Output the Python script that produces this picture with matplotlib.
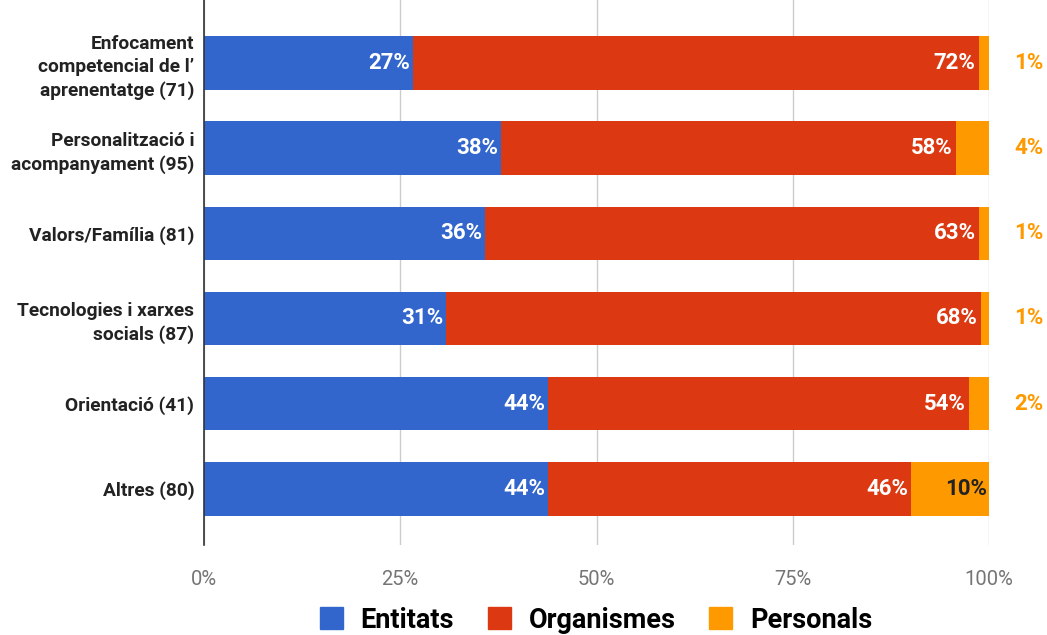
import matplotlib
matplotlib.use("Agg")
import matplotlib.pyplot as plt
from matplotlib.patches import Patch

categories = ["Enfocament\ncompetencial de l’\naprenentatge (71)",
              "Personalització i\nacompanyament (95)",
              "Valors/Família (81)",
              "Tecnologies i xarxes\nsocials (87)",
              "Orientació (41)",
              "Altres (80)"]
entitats = [26.6, 37.8, 35.8, 30.8, 43.8, 43.8]
organismes = [72.1, 58.0, 62.9, 68.2, 53.7, 46.3]
personals = [1.3, 4.2, 1.3, 1.0, 2.5, 10.0]
lab_ent = ["27%", "38%", "36%", "31%", "44%", "44%"]
lab_org = ["72%", "58%", "63%", "68%", "54%", "46%"]
lab_per = ["1%", "4%", "1%", "1%", "2%", "10%"]
series_names = ["Entitats", "Organismes", "Personals"]
colors = ["#3366CC", "#DC3912", "#FF9900"]

plt.rcParams['font.family'] = ['Roboto', 'DejaVu Sans']

fig = plt.figure(figsize=(10.47, 6.35), dpi=100)
ax = fig.add_axes([204/1047, 1 - 545/635, (989-204)/1047, 545/635])

y = list(range(len(categories)))
h = 0.63
ax.barh(y, entitats, height=h, color=colors[0], zorder=3)
left2 = entitats
ax.barh(y, organismes, left=left2, height=h, color=colors[1], zorder=3)
left3 = [a + b for a, b in zip(entitats, organismes)]
ax.barh(y, personals, left=left3, height=h, color=colors[2], zorder=3)

lf = 16
for i in y:
    ax.text(entitats[i] - 0.3, i, lab_ent[i], ha='right', va='center',
            color='white', fontsize=lf, fontweight='bold', zorder=4)
    ax.text(left3[i] - 0.4, i, lab_org[i], ha='right', va='center',
            color='white', fontsize=lf, fontweight='bold', zorder=4)
    if personals[i] >= 5:
        ax.text(left3[i] + personals[i] - 0.4, i, lab_per[i], ha='right', va='center',
                color='#222222', fontsize=lf, fontweight='bold', zorder=4)
    else:
        ax.text(107.0, i, lab_per[i], ha='right', va='center', clip_on=False,
                color=colors[2], fontsize=lf, fontweight='bold', zorder=4)

ax.set_xlim(0, 100)
ax.set_ylim(5.66, -0.74)
ax.set_xticks([0, 25, 50, 75, 100])
ax.set_xticklabels(["0%", "25%", "50%", "75%", "100%"], fontsize=14.5, color='#757575')
ax.set_yticks(y)
ax.set_yticklabels(categories, fontsize=13.8, fontweight='bold', color='#222222',
                   linespacing=1.35)
ax.tick_params(axis='both', length=0)
ax.tick_params(axis='x', pad=18)
ax.tick_params(axis='y', pad=7)
ax.grid(axis='x', color='#cccccc', linewidth=1, zorder=0)
for s in ['top', 'right', 'bottom']:
    ax.spines[s].set_visible(False)
ax.spines['left'].set_color('#333333')
ax.spines['left'].set_linewidth(1.2)
ax.spines['left'].set_zorder(5)

handles = [Patch(facecolor=c, edgecolor=c) for c in colors]
fig.legend(handles, series_names, loc='center', bbox_to_anchor=(596/1047, 1 - 620/635),
           ncol=3, frameon=False, prop={'family': ['Roboto'], 'weight': 'bold', 'size': 19.5},
           handlelength=0.85, handleheight=0.85, handletextpad=0.65, columnspacing=1.25)

fig.savefig("out.png", dpi=100)
